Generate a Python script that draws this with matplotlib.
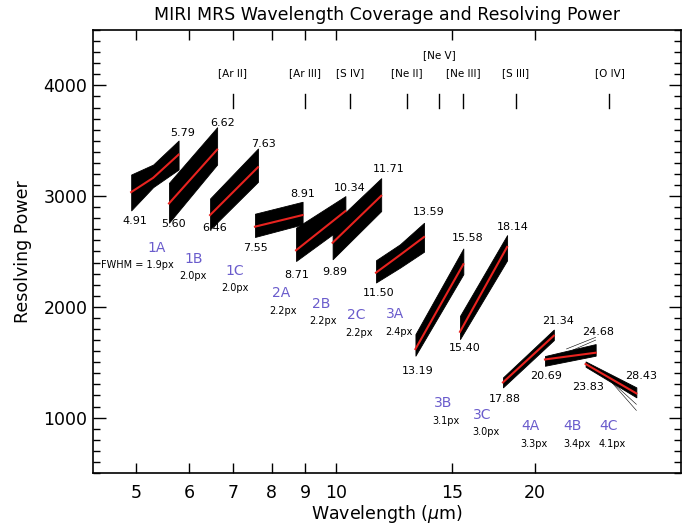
import numpy as np
import matplotlib
matplotlib.use("Agg")
import matplotlib.pyplot as plt
from matplotlib.ticker import FixedLocator, NullFormatter, MultipleLocator

# MRS sub-bands: wavelength points and resolving power (red = median, hi/lo = envelope)
band_names = ["1A", "1B", "1C", "2A", "2B", "2C", "3A", "3B", "3C", "4A", "4B", "4C"]
band_fwhm = ["1.9px", "2.0px", "2.0px", "2.2px", "2.2px", "2.2px",
             "2.4px", "3.1px", "3.0px", "3.3px", "3.4px", "4.1px"]
band_lam = [[4.91, 5.30, 5.79], [5.60, 6.62], [6.46, 7.63], [7.55, 8.91],
            [8.71, 10.34], [9.89, 11.71], [11.50, 12.50, 13.59], [13.19, 15.58],
            [15.40, 18.14], [17.88, 21.34], [20.69, 24.68], [23.83, 28.43]]
band_red = [[3036, 3165, 3375], [2934, 3420], [2829, 3261], [2724, 2829],
            [2511, 2865], [2579, 3003], [2309, 2468, 2631], [1619, 2385],
            [1775, 2541], [1318, 1740], [1525, 1586], [1484, 1219]]
band_hi = [[3195, 3285, 3502], [3120, 3622], [2979, 3430], [2841, 2949],
           [2715, 3000], [2745, 3162], [2421, 2565, 2759], [1754, 2527],
           [1919, 2648], [1363, 1795], [1556, 1664], [1507, 1273]]
band_lo = [[2871, 3081, 3240], [2760, 3285], [2700, 3129], [2631, 2745],
           [2414, 2739], [2430, 2865], [2220, 2354, 2498], [1559, 2295],
           [1709, 2420], [1273, 1700], [1468, 1559], [1459, 1183]]

# stray thin traces in channel 4
fan_lam = [[22.3, 24.68], [22.8, 24.68], [25.3, 28.43], [25.0, 28.43]]
fan_R = [[1620, 1725], [1610, 1700], [1410, 1065], [1425, 1120]]

# wavelength label positions (start below, end above)
start_lab = [(4.97, 2775), (5.68, 2745), (6.57, 2714), (7.56, 2534), (8.74, 2286),
             (9.98, 2315), (11.62, 2123), (13.31, 1423), (15.66, 1628), (18.00, 1168),
             (20.74, 1372), (24.05, 1273)]
end_lab = [(5.88, 3570), (6.74, 3660), (7.77, 3471), (8.91, 3021), (10.50, 3069),
           (12.04, 3246), (13.83, 2856), (15.84, 2624), (18.53, 2723), (21.67, 1874),
           (24.90, 1775), (28.89, 1372)]
name_lab = [(5.36, 2534), (6.11, 2435), (7.04, 2324), (8.26, 2129), (9.52, 2030),
            (10.75, 1928), (12.28, 1934), (14.50, 1129), (16.66, 1027), (19.64, 922),
            (22.75, 922), (25.78, 922)]
fwhm_lab = [(5.02, 2378), (6.09, 2279), (7.04, 2174), (8.31, 1964), (9.57, 1868),
            (10.84, 1768), (12.45, 1777), (14.66, 967), (16.85, 874), (19.93, 763),
            (23.10, 763), (26.15, 763)]

# emission lines
line_names = ["[Ar II]", "[Ar III]", "[S IV]", "[Ne II]", "[Ne V]", "[Ne III]", "[S III]", "[O IV]"]
line_lam = [6.985, 8.991, 10.51, 12.81, 14.32, 15.56, 18.71, 25.89]
line_lab_R = [4110, 4110, 4110, 4110, 4270, 4110, 4110, 4110]

purple = "#6a5ccc"

fig = plt.figure(figsize=(6.91, 5.29), dpi=100)
ax = fig.add_axes([0.1346, 0.1059, 0.8509, 0.8374])
ax.set_xscale("log")
ax.set_xlim(4.3, 33.2)
ax.set_ylim(500, 4500)

for i in range(len(band_names)):
    lam = band_lam[i]
    ax.fill_between(lam, band_lo[i], band_hi[i], color="black", lw=0.6, zorder=2)
    ax.plot(lam, band_red[i], color="#e8231f", lw=1.5, zorder=3)
    ax.text(*start_lab[i], f"{lam[0]:.2f}", ha="center", va="center", fontsize=8)
    ax.text(*end_lab[i], f"{lam[-1]:.2f}", ha="center", va="center", fontsize=8)
    ax.text(*name_lab[i], band_names[i], ha="center", va="center", fontsize=10, color=purple)
    txt = band_fwhm[i] if i > 0 else "FWHM = " + band_fwhm[i]
    ax.text(*fwhm_lab[i], txt, ha="center", va="center", fontsize=7)

for lam, r in zip(fan_lam, fan_R):
    ax.plot(lam, r, color="black", lw=0.4, zorder=2)

for name, lam, ry in zip(line_names, line_lam, line_lab_R):
    ax.plot([lam, lam], [3800, 3920], color="black", lw=1.0)
    ax.text(lam, ry, name, ha="center", va="center", fontsize=7.5)

xt = [5, 6, 7, 8, 9, 10, 15, 20]
ax.xaxis.set_major_locator(FixedLocator(xt))
ax.xaxis.set_minor_locator(FixedLocator([]))
ax.xaxis.set_minor_formatter(NullFormatter())
ax.set_xticklabels([str(v) for v in xt])
ax.yaxis.set_major_locator(MultipleLocator(1000))
ax.yaxis.set_minor_locator(MultipleLocator(100))

ax.tick_params(which="both", direction="in", top=True, right=True, labelsize=12.5, width=1.0)
ax.tick_params(axis="x", which="major", length=7, pad=8)
ax.tick_params(axis="y", which="major", length=9, pad=4)
ax.tick_params(axis="y", which="minor", length=5)
for s in ax.spines.values():
    s.set_linewidth(1.2)

ax.set_xlabel(r"Wavelength ($\mu$m)", fontsize=12.5, labelpad=1)
ax.set_ylabel("Resolving Power", fontsize=12.5, labelpad=8)
ax.set_title("MIRI MRS Wavelength Coverage and Resolving Power", fontsize=12.5, pad=7)

fig.savefig("out.png", dpi=100)
